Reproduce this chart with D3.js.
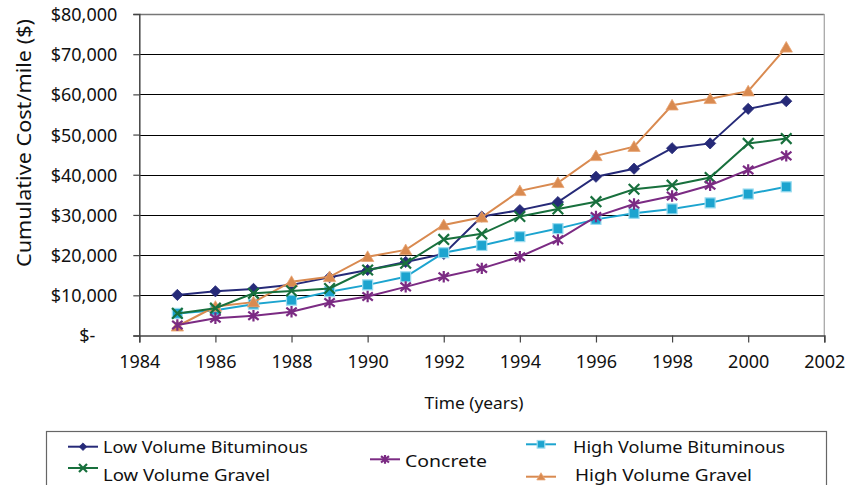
<!DOCTYPE html>
<html><head><meta charset="utf-8">
<script src="https://cdn.jsdelivr.net/npm/d3@7"></script>
<style>
html,body{margin:0;padding:0;background:#fff;}
svg{display:block;font-family:"Noto Sans",sans-serif;}
</style></head>
<body><svg id="c" width="859" height="485"></svg>
<script>
const years = [1985,1986,1987,1988,1989,1990,1991,1992,1993,1994,1995,1996,1997,1998,1999,2000,2001];
const lowVolBituminous  = [10100,11000,11600,12600,14500,16300,18300,20300,29600,31200,33200,39500,41500,46600,47800,56400,58300];
const lowVolGravel      = [5500,6800,10500,11100,11700,16300,18000,23900,25300,29600,31500,33300,36400,37400,39300,47800,49000];
const concrete          = [2600,4300,4900,5900,8200,9700,12100,14600,16700,19600,23800,29600,32700,34700,37400,41200,44700];
const highVolBituminous = [5500,6300,7800,8800,10900,12600,14600,20600,22400,24600,26600,28900,30400,31500,33000,35200,37000];
const highVolGravel     = [2300,7200,8300,13400,14600,19600,21300,27500,29400,36000,38000,44700,47000,57300,58900,60800,71700];
const xTicks = [1984,1986,1988,1990,1992,1994,1996,1998,2000,2002];
const yTicks = [0,10000,20000,30000,40000,50000,60000,70000,80000];
const seriesNames = ["Low Volume Bituminous","Low Volume Gravel","Concrete","High Volume Bituminous","High Volume Gravel"];

const svg = d3.select("#c");
const L=139.3, R=824.3, T=14, B=335.5;
const x = d3.scaleLinear().domain([1984,2002]).range([L,R]);
const y = d3.scaleLinear().domain([0,80000]).range([B,T]);

const styles = {
  "Low Volume Bituminous": {color:"#262a78", marker:"diamond"},
  "Low Volume Gravel": {color:"#18703d", marker:"x"},
  "Concrete": {color:"#7b2b83", marker:"star"},
  "High Volume Bituminous": {color:"#1ca4cf", marker:"square"},
  "High Volume Gravel": {color:"#d98a50", marker:"triangle"}
};
const dataMap = {
  "Low Volume Bituminous": lowVolBituminous,
  "Low Volume Gravel": lowVolGravel,
  "Concrete": concrete,
  "High Volume Bituminous": highVolBituminous,
  "High Volume Gravel": highVolGravel
};

// gridlines
svg.append("g").selectAll("line").data(yTicks.filter(v=>v>0 && v<80000)).join("line")
  .attr("x1",L).attr("x2",R).attr("y1",d=>Math.round(y(d))+0.5).attr("y2",d=>Math.round(y(d))+0.5)
  .attr("stroke","#000").attr("stroke-width",1);
// frame top & right
svg.append("line").attr("x1",L).attr("x2",R).attr("y1",Math.round(y(80000))+0.5).attr("y2",Math.round(y(80000))+0.5)
  .attr("stroke","#777").attr("stroke-width",1.3);
svg.append("line").attr("x1",R).attr("x2",R).attr("y1",T).attr("y2",B)
  .attr("stroke","#a8a8a8").attr("stroke-width",1.3);

// y axis
const yAxis = d3.axisLeft(y).tickValues(yTicks).tickSize(6).tickPadding(16)
  .tickFormat(d=> d===0 ? "$-" : "$" + d3.format(",")(d));
const gy = svg.append("g").attr("transform",`translate(${L},0)`).call(yAxis);
gy.select(".domain").attr("stroke","#444").attr("stroke-width",1.5);
gy.selectAll(".tick line").attr("stroke","#444").attr("stroke-width",1.2);
gy.selectAll(".tick text").attr("font-family","Noto Sans").attr("font-size",18).attr("fill","#111")
  .attr("dx",d=>d===0?-22:0).attr("dy","0.36em");

// x axis
const xAxis = d3.axisBottom(x).tickValues(xTicks).tickSize(7).tickPadding(13).tickFormat(d3.format("d"));
const gx = svg.append("g").attr("transform",`translate(0,${B})`).call(xAxis);
gx.select(".domain").attr("stroke","#444").attr("stroke-width",1.5);
gx.selectAll(".tick line").attr("stroke","#444").attr("stroke-width",1.2);
gx.selectAll(".tick text").attr("font-family","Noto Sans").attr("font-size",18).attr("fill","#111");

// axis titles
svg.append("text").attr("transform","translate(31,143) rotate(-90)").attr("text-anchor","middle")
  .attr("font-size",20).attr("fill","#111").attr("textLength",248).attr("lengthAdjust","spacingAndGlyphs")
  .text("Cumulative Cost/mile ($)");
svg.append("text").attr("x",474).attr("y",409).attr("text-anchor","middle")
  .attr("font-size",17).attr("fill","#111").attr("textLength",99).attr("lengthAdjust","spacingAndGlyphs")
  .text("Time (years)");

function drawMarker(g, type, color, s){
  if(type==="diamond"){
    g.append("path").attr("d",`M0,${-s}L${s},0L0,${s}L${-s},0Z`).attr("fill",color).attr("stroke",color).attr("stroke-width",0.8);
  } else if(type==="square"){
    g.append("rect").attr("x",-s).attr("y",-s).attr("width",2*s).attr("height",2*s)
      .attr("fill",color).attr("stroke","#9bdcf0").attr("stroke-width",1.2);
  } else if(type==="triangle"){
    g.append("path").attr("d",`M0,${-s*1.05}L${s*1.1},${s*0.85}L${-s*1.1},${s*0.85}Z`)
      .attr("fill",color).attr("stroke","#e8a574").attr("stroke-width",0.8);
  } else if(type==="x"){
    g.append("path").attr("d",`M${-s},${-s}L${s},${s}M${-s},${s}L${s},${-s}`).attr("stroke",color).attr("stroke-width",2.2).attr("fill","none");
  } else if(type==="star"){
    g.append("path").attr("d",`M${-s},${-s*0.8}L${s},${s*0.8}M${-s},${s*0.8}L${s},${-s*0.8}M0,${-s*1.1}L0,${s*1.1}`)
      .attr("stroke",color).attr("stroke-width",2.2).attr("fill","none");
  }
}

const drawOrder = ["Low Volume Bituminous","High Volume Bituminous","High Volume Gravel","Low Volume Gravel","Concrete"];
const markerSize = {diamond:5.6, square:5, triangle:5.6, x:5.3, star:5.2};
const line = d3.line().x((d,i)=>x(years[i])).y(d=>y(d));
drawOrder.forEach(name=>{
  const st = styles[name], vals = dataMap[name];
  const g = svg.append("g");
  g.append("path").attr("d",line(vals)).attr("fill","none").attr("stroke",st.color).attr("stroke-width",2);
  vals.forEach((v,i)=>{
    const m = g.append("g").attr("transform",`translate(${x(years[i])},${y(v)})`);
    drawMarker(m, st.marker, st.color, markerSize[st.marker]);
  });
});

// legend
svg.append("rect").attr("x",46.5).attr("y",431.5).attr("width",780).attr("height",70)
  .attr("fill","none").attr("stroke","#666").attr("stroke-width",1.2);
const legendItems = [
  {name:seriesNames[0], lx:68, ly:446.7, tx:103, ty:453, w:205},
  {name:seriesNames[1], lx:68, ly:468, tx:103, ty:480.5, w:167},
  {name:seriesNames[2], lx:370, ly:459.3, tx:405, ty:466.5, w:82},
  {name:seriesNames[3], lx:526, ly:444.3, tx:573, ty:453, w:212},
  {name:seriesNames[4], lx:526, ly:476.7, tx:575, ty:480.5, w:177}
];
const legendMarker = {diamond:3.8, square:3.8, triangle:3.8, x:4, star:4};
legendItems.forEach(it=>{
  const st = styles[it.name];
  const g = svg.append("g");
  g.append("line").attr("x1",it.lx).attr("x2",it.lx+30).attr("y1",it.ly).attr("y2",it.ly)
    .attr("stroke",st.color).attr("stroke-width",2);
  const m = g.append("g").attr("transform",`translate(${it.lx+15},${it.ly})`);
  drawMarker(m, st.marker, st.color, legendMarker[st.marker]);
  g.append("text").attr("x",it.tx).attr("y",it.ty).attr("font-size",16.5).attr("fill","#111")
    .attr("textLength",it.w).attr("lengthAdjust","spacingAndGlyphs").text(it.name);
});
</script>
</body></html>
